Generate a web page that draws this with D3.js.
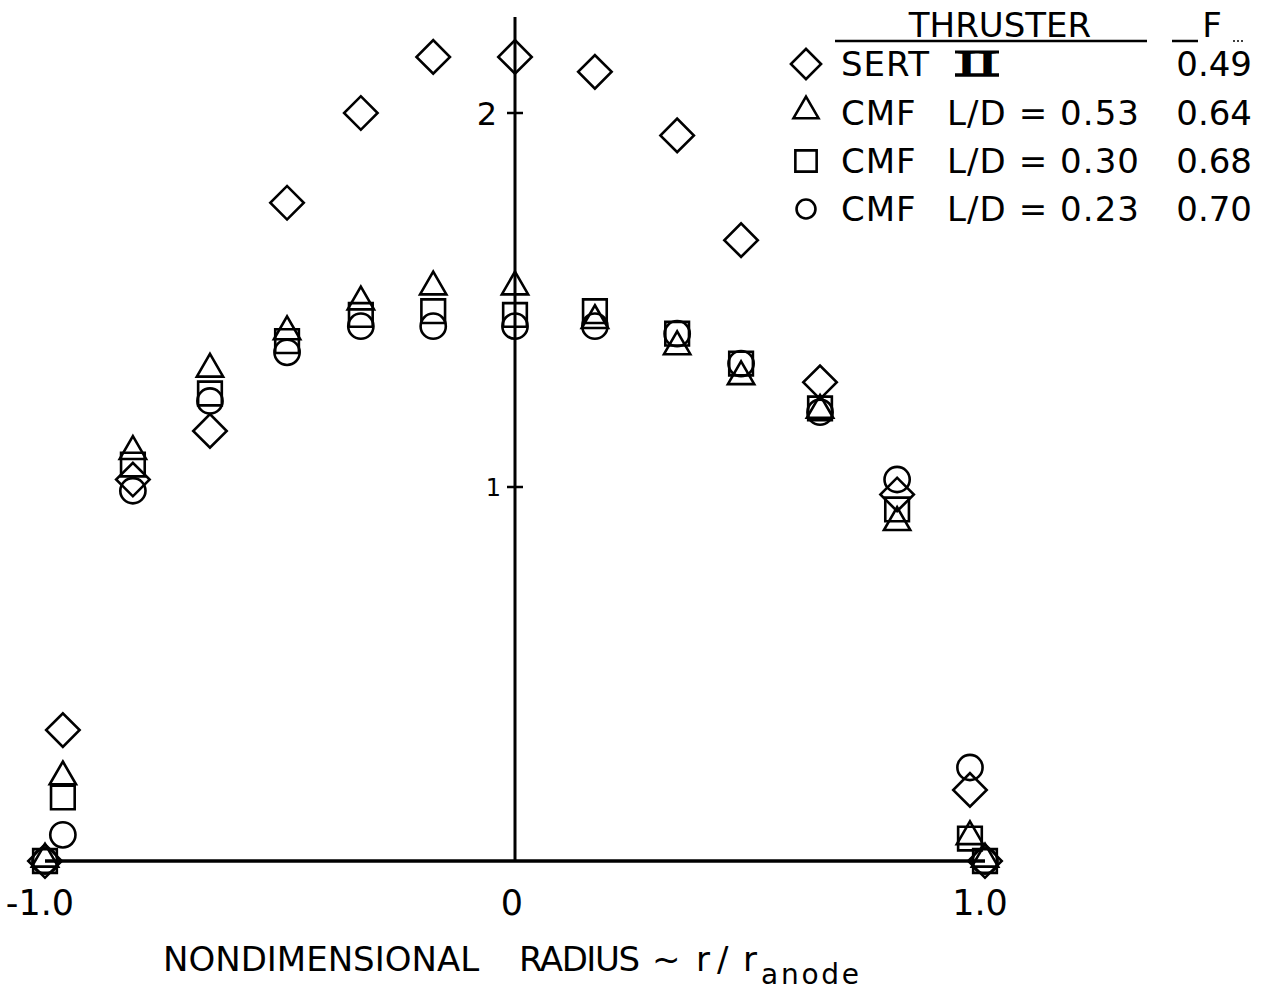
<!DOCTYPE html>
<html>
<head>
<meta charset="utf-8">
<script src="https://cdn.jsdelivr.net/npm/d3@7"></script>
<style>
  body { margin: 0; background: #fff; }
  svg text { font-family: "DejaVu Sans", sans-serif; fill: #000; }
</style>
</head>
<body>
<svg id="chart"></svg>
<script>
// radial stations (r / r_anode)
const radius = [-1.0, -0.962, -0.813, -0.649, -0.485, -0.328, -0.174, 0, 0.170, 0.345, 0.481, 0.649, 0.813, 0.968, 1.0];

// normalised current density for each thruster
const sertII  = [0, 0.35, 1.02, 1.15, 1.76, 2.00, 2.15, 2.15, 2.11, 1.94, 1.66, 1.28, 0.98, 0.19, 0];
const cmf053  = [0, 0.22, 1.09, 1.31, 1.41, 1.49, 1.53, 1.53, 1.44, 1.37, 1.29, 1.20, 0.90, 0.06, 0];
const cmf030  = [0, 0.17, 1.06, 1.25, 1.39, 1.46, 1.47, 1.46, 1.47, 1.41, 1.33, 1.21, 0.94, 0.06, 0];
const cmf023  = [0, 0.07, 0.99, 1.23, 1.36, 1.43, 1.43, 1.43, 1.43, 1.41, 1.33, 1.20, 1.02, 0.25, 0];

const seriesNames = ["SERT", "CMF", "CMF", "CMF"];
const ldLabels = ["", "L/D = 0.53", "L/D = 0.30", "L/D = 0.23"];
const fValues = ["0.49", "0.64", "0.68", "0.70"];
const markerShapes = ["diamond", "triangle", "square", "circle"];

const xTicks = [-1, 0, 1];
const xTickLabels = ["-1.0", "0", "1.0"];
const yTicks = [1, 2];

const W = 1268, H = 992;
const svg = d3.select("#chart").attr("width", W).attr("height", H);

const x = d3.scaleLinear().domain([-1, 1]).range([45, 985]);
const y = d3.scaleLinear().domain([0, 2]).range([861, 113]);

// axes
svg.append("line")
  .attr("x1", x(-1)).attr("x2", x(1))
  .attr("y1", y(0)).attr("y2", y(0))
  .attr("stroke", "#000").attr("stroke-width", 3.5);
svg.append("line")
  .attr("x1", x(0)).attr("x2", x(0))
  .attr("y1", y(0)).attr("y2", 17)
  .attr("stroke", "#000").attr("stroke-width", 3);

// y ticks cross the axis
svg.selectAll(".ytick").data(yTicks).enter().append("line")
  .attr("x1", x(0) - 8).attr("x2", x(0) + 8)
  .attr("y1", d => y(d)).attr("y2", d => y(d))
  .attr("stroke", "#000").attr("stroke-width", 2.5);
svg.selectAll(".ylab").data(yTicks).enter().append("text")
  .attr("x", d => x(0) - (d === 1 ? 14 : 18))
  .attr("y", d => y(d))
  .attr("dy", "0.36em")
  .attr("text-anchor", "end")
  .style("font-size", d => d === 1 ? "24px" : "32px")
  .text(d => d);

svg.selectAll(".xlab").data(xTicks).enter().append("text")
  .attr("x", (d, i) => x(d) + [-5, -3, -5][i])
  .attr("y", 915)
  .attr("text-anchor", "middle")
  .style("font-size", "35px")
  .text((d, i) => xTickLabels[i]);

const title = svg.append("g").style("font-size", "34px");
title.append("text").attr("x", 163).attr("y", 971).text("NONDIMENSIONAL");
title.append("text").attr("x", 519).attr("y", 971).attr("textLength", 121).text("RADIUS");
title.append("text").attr("x", 652).attr("y", 971).text("~");
title.append("text").attr("x", 696).attr("y", 971).text("r");
title.append("text").attr("x", 717).attr("y", 971).text("/");
title.append("text").attr("x", 743).attr("y", 971).text("r");
title.append("text").attr("x", 761).attr("y", 984).style("font-size", "28px")
  .attr("textLength", 98).text("anode");

// marker drawing
const sym = {
  diamond: d3.symbol().type(d3.symbolSquare).size(560),
  triangle: d3.symbol().type(d3.symbolTriangle).size(300),
  square: d3.symbol().type(d3.symbolSquare).size(560),
  circle: d3.symbol().type(d3.symbolCircle).size(500)
};
function drawMarker(g, shape, cx, cy, scale) {
  const s = scale || 1;
  let t = `translate(${cx},${cy})`;
  if (shape === "diamond") t += " rotate(45)";
  if (shape === "triangle") t += " translate(0,-2)";
  g.append("path")
    .attr("d", sym[shape]())
    .attr("transform", t + ` scale(${s})`)
    .attr("fill", "none")
    .attr("stroke", "#000")
    .attr("stroke-width", 2.6 / s);
}

const allSeries = [sertII, cmf053, cmf030, cmf023];
[3, 2, 1, 0].forEach(k => {
  const g = svg.append("g");
  allSeries[k].forEach((v, i) => {
    drawMarker(g, markerShapes[k], x(radius[i]), y(v), 1);
  });
});

// legend
const lg = svg.append("g");
lg.append("text").attr("x", 1000).attr("y", 37).attr("text-anchor", "middle")
  .style("font-size", "34px").text("THRUSTER");
lg.append("line").attr("x1", 835).attr("x2", 1147).attr("y1", 41).attr("y2", 41)
  .attr("stroke", "#000").attr("stroke-width", 2.5);
lg.append("text").attr("x", 1212).attr("y", 37).attr("text-anchor", "middle")
  .style("font-size", "34px").text("F");
lg.append("line").attr("x1", 1172).attr("x2", 1198).attr("y1", 41).attr("y2", 41)
  .attr("stroke", "#000").attr("stroke-width", 2.5);
lg.append("line").attr("x1", 1233).attr("x2", 1245).attr("y1", 41).attr("y2", 41)
  .attr("stroke", "#000").attr("stroke-width", 1.5).attr("stroke-dasharray", "2,2");

const rowY = [64, 113, 161, 209];
const markerScale = [0.9, 0.95, 0.9, 0.75];
seriesNames.forEach((name, k) => {
  drawMarker(lg, markerShapes[k], 806, rowY[k], markerScale[k]);
  lg.append("text").attr("x", 841).attr("y", rowY[k]).attr("dy", "0.36em")
    .style("font-size", "34px").style("letter-spacing", "1px").text(name);
  if (k === 0) {
    // roman numeral II with joined serifs
    lg.append("text").attr("x", 956).attr("y", rowY[k]).attr("dy", "0.34em")
      .attr("textLength", 42).attr("lengthAdjust", "spacingAndGlyphs")
      .style("font-family", "'Liberation Serif', serif")
      .style("font-weight", "bold")
      .style("font-size", "36px").text("II");
    lg.append("line").attr("x1", 955).attr("x2", 999)
      .attr("y1", rowY[k] - 12).attr("y2", rowY[k] - 12)
      .attr("stroke", "#000").attr("stroke-width", 3);
    lg.append("line").attr("x1", 955).attr("x2", 999)
      .attr("y1", rowY[k] + 11).attr("y2", rowY[k] + 11)
      .attr("stroke", "#000").attr("stroke-width", 3.5);
  } else {
    lg.append("text").attr("x", 947).attr("y", rowY[k]).attr("dy", "0.36em")
      .attr("textLength", 192)
      .style("font-size", "34px").text(ldLabels[k]);
  }
  lg.append("text").attr("x", 1252).attr("y", rowY[k]).attr("dy", "0.36em")
    .attr("text-anchor", "end")
    .style("font-size", "34px").text(fValues[k]);
});
</script>
</body>
</html>
